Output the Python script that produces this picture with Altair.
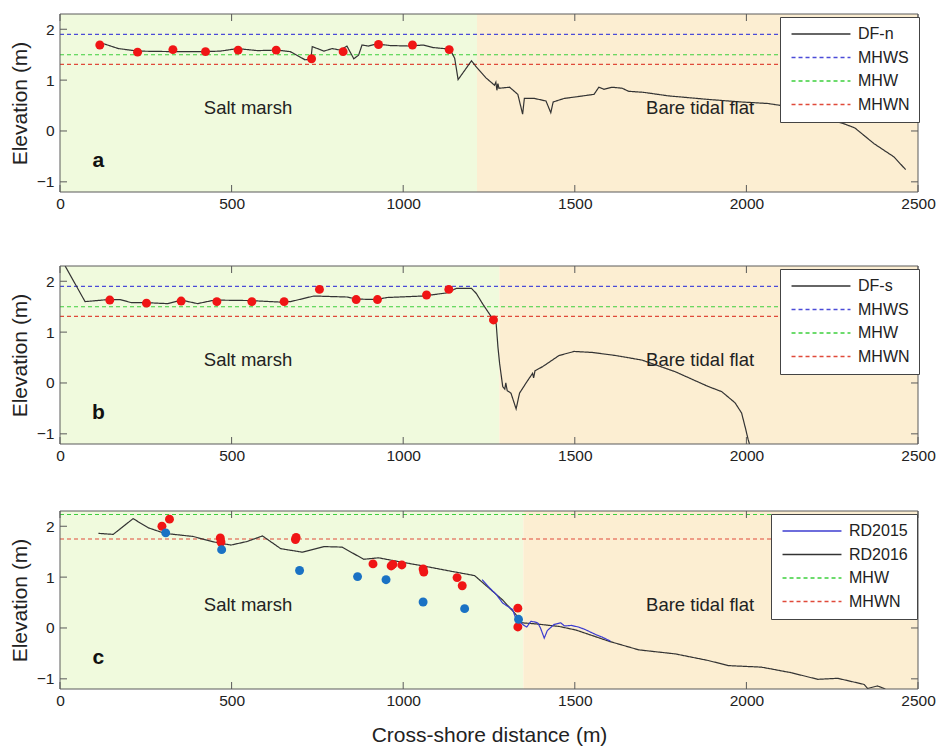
import altair as alt
import pandas as pd

# ---------------- data ----------------
XTICKS = [0, 500, 1000, 1500, 2000, 2500]
YTICKS = [-1, 0, 1, 2]

# panel a : DF-n profile
dfn_x = [116, 170, 228, 330, 421, 467, 517, 575, 633, 671, 714, 731, 735, 769, 793, 817, 836, 856, 870, 880,
         898, 923, 962, 1019, 1058, 1087, 1136, 1150, 1160, 1199, 1213, 1242, 1266, 1270, 1273, 1276, 1279,
         1310, 1334, 1348, 1353, 1382, 1416, 1430, 1437, 1469, 1503, 1556, 1570, 1585, 1609, 1638, 1657,
         1700, 1773, 1889, 1986, 2063, 2150, 2210, 2252, 2285, 2316, 2372, 2430, 2464]
dfn_y = [1.74, 1.62, 1.57, 1.56, 1.56, 1.57, 1.62, 1.58, 1.59, 1.56, 1.40, 1.41, 1.66, 1.57, 1.62, 1.59, 1.67,
         1.42, 1.49, 1.69, 1.67, 1.71, 1.68, 1.67, 1.69, 1.64, 1.61, 1.43, 1.01, 1.38, 1.26, 1.04, 0.90, 0.96,
         0.80, 0.93, 0.84, 0.86, 0.72, 0.33, 0.64, 0.64, 0.59, 0.36, 0.57, 0.64, 0.67, 0.72, 0.86, 0.82, 0.86,
         0.84, 0.78, 0.76, 0.69, 0.62, 0.57, 0.54, 0.45, 0.32, 0.20, 0.14, 0.06, -0.25, -0.51, -0.76]
dfn_dot_x = [116, 226, 329, 424, 519, 630, 733, 825, 928, 1027, 1134]
dfn_dot_y = [1.69, 1.55, 1.60, 1.56, 1.59, 1.59, 1.42, 1.56, 1.70, 1.69, 1.60]

# panel b : DF-s profile
dfs_x = [15, 73, 141, 174, 208, 247, 314, 353, 401, 450, 556, 643, 672, 740, 836, 865, 923, 952, 1058, 1126,
         1155, 1199, 1213, 1232, 1252, 1263, 1271, 1276, 1281, 1290, 1296, 1299, 1303, 1314, 1329, 1339, 1358,
         1377, 1380, 1384, 1406, 1454, 1498, 1551, 1619, 1696, 1793, 1889, 1928, 1967, 1986, 1998, 2005, 2009]
dfs_y = [2.30, 1.60, 1.64, 1.64, 1.58, 1.58, 1.56, 1.63, 1.56, 1.63, 1.62, 1.59, 1.60, 1.71, 1.69, 1.65, 1.64,
         1.68, 1.71, 1.77, 1.86, 1.86, 1.76, 1.55, 1.35, 1.24, 1.16, 0.71, 0.38, -0.07, -0.12, 0.00, -0.15,
         -0.20, -0.51, -0.20, 0.00, 0.19, 0.10, 0.24, 0.32, 0.54, 0.62, 0.60, 0.54, 0.45, 0.22, -0.07, -0.17,
         -0.39, -0.59, -0.91, -1.11, -1.20]
dfs_dot_x = [145, 252, 353, 457, 559, 653, 756, 863, 925, 1068, 1133, 1263]
dfs_dot_y = [1.63, 1.57, 1.61, 1.60, 1.60, 1.60, 1.84, 1.64, 1.64, 1.73, 1.84, 1.24]

# panel c : RD profiles
rd16_x = [112, 155, 213, 257, 305, 387, 450, 498, 545, 590, 643, 706, 769, 822, 885, 928, 991, 1058, 1136,
          1208, 1242, 1290, 1329, 1334, 1348, 1387, 1454, 1503, 1599, 1686, 1793, 1889, 1947, 2044, 2131,
          2208, 2266, 2343, 2353, 2382, 2405]
rd16_y = [1.86, 1.84, 2.15, 1.97, 1.86, 1.80, 1.69, 1.63, 1.70, 1.81, 1.56, 1.49, 1.60, 1.59, 1.35, 1.38,
          1.30, 1.22, 1.12, 1.03, 0.83, 0.55, 0.26, 0.12, 0.10, 0.08, 0.03, -0.04, -0.26, -0.43, -0.51, -0.64,
          -0.74, -0.77, -0.88, -1.01, -0.99, -1.11, -1.19, -1.14, -1.20]
rd15_x = [1230, 1250, 1271, 1290, 1319, 1329, 1340, 1350, 1360, 1372, 1382, 1392, 1400, 1411, 1420, 1440,
          1459, 1470, 1490, 1510, 1530, 1561, 1580, 1604]
rd15_y = [0.95, 0.80, 0.66, 0.49, 0.36, 0.17, 0.12, 0.06, 0.02, 0.13, 0.12, 0.10, 0.00, -0.20, -0.05, 0.07,
          0.10, 0.04, 0.05, 0.02, -0.03, -0.13, -0.18, -0.26]
rd_red_x = [297, 319, 467, 469, 686, 688, 912, 965, 970, 996, 1058, 1060, 1157, 1172, 1334, 1334]
rd_red_y = [2.00, 2.14, 1.77, 1.69, 1.74, 1.78, 1.26, 1.22, 1.25, 1.24, 1.16, 1.10, 0.99, 0.83, 0.39, 0.02]
rd_blue_x = [308, 471, 698, 867, 950, 1058, 1179, 1336]
rd_blue_y = [1.87, 1.54, 1.13, 1.01, 0.95, 0.51, 0.38, 0.17]

# tide levels
levels_ab_names = ["MHWS", "MHW", "MHWN"]
levels_ab_values = [1.90, 1.50, 1.31]
levels_c_names = ["MHW", "MHWN"]
levels_c_values = [2.23, 1.75]

# zone boundaries (m)
boundaries = [1215, 1280, 1350]
zone_labels = ["Salt marsh", "Bare tidal flat"]
panel_letters = ["a", "b", "c"]

# ---------------- styling ----------------
W, H = 858, 178
FONT = "Liberation Sans"
GREEN = "#F0FADD"
BEIGE = "#FCEED2"
AXC = "#5a5a5a"
TXT = "#222222"
C_PROF = "#333333"
C_MHWS = "#4b4bd8"
C_MHW = "#3ccf3c"
C_MHWN = "#e04a3a"
C_RD15 = "#3c3cd0"
DOT_RED = "#f01515"
DOT_BLUE = "#1a72c4"
SOLID = [1, 0]
DASH = [4, 3]

x_scale = alt.Scale(domain=[0, 2500], nice=False, zero=False)
y_scale = alt.Scale(domain=[-1.2, 2.3], nice=False, zero=False)


def make_panel(idx, lines, levels, dots, boundary, names, colors, dashes, legend_x, last):
    xtitle = "Cross-shore distance (m)" if last else None
    x_axis = alt.Axis(values=XTICKS, ticks=False, tickSize=0, domain=False, grid=False,
                      labelPadding=4, labelFontSize=15.5, labelFlush=False, titleFontSize=21,
                      titlePadding=16, titleFontWeight="normal", format="d")
    y_axis = alt.Axis(values=YTICKS, ticks=False, tickSize=0, domain=False, grid=False,
                      labelPadding=6, labelFontSize=15.5, labelFlush=False, titleFontSize=21,
                      titlePadding=6, titleFontWeight="normal", format="d")

    def X(f):
        return alt.X(f, type="quantitative", scale=x_scale, axis=x_axis, title=xtitle)

    def Y(f):
        return alt.Y(f, type="quantitative", scale=y_scale, axis=y_axis, title="Elevation (m)")

    leg = alt.Legend(orient="none", legendX=legend_x, legendY=3, title=None, fillColor="white",
                     strokeColor="#444444", padding=9, symbolType="M-5,0H5", symbolSize=139,
                     symbolStrokeWidth=1.3, symbolOffset=24, labelFontSize=16, labelFont=FONT,
                     labelColor=TXT, rowPadding=7.5, labelOffset=29, cornerRadius=0)
    color = alt.Color("series:N", scale=alt.Scale(domain=names, range=colors), legend=leg)
    dash = alt.StrokeDash("series:N", scale=alt.Scale(domain=names, range=dashes), legend=leg)

    bg = pd.DataFrame({"x0": [0, boundary], "x1": [boundary, 2500], "fill": [GREEN, BEIGE]})
    bg_layer = alt.Chart(bg).mark_rect(strokeWidth=0).encode(
        x=X("x0"), x2="x1", y=alt.value(0), y2=alt.value(H),
        fill=alt.Fill("fill:N", scale=None))

    lv = pd.DataFrame({"series": levels[0], "y": levels[1]})
    lv_layer = alt.Chart(lv).mark_rule(strokeWidth=1.1).encode(y=Y("y"), color=color, strokeDash=dash)

    rows = []
    for name, xs, ys in lines:
        for i, (a, b) in enumerate(zip(xs, ys)):
            rows.append({"series": name, "x": a, "y": b, "i": i})
    ln = pd.DataFrame(rows)
    ln_layer = alt.Chart(ln).mark_line(strokeWidth=1.2, clip=True).encode(
        x=X("x"), y=Y("y"), color=color, strokeDash=dash, order="i:Q")

    dot_layers = []
    for xs, ys, col in dots:
        d = pd.DataFrame({"x": xs, "y": ys})
        dot_layers.append(alt.Chart(d).mark_circle(size=80, opacity=1, color=col, clip=True).encode(
            x=X("x"), y=Y("y")))

    tx = pd.DataFrame({"x": [548, 1865], "y": [0.46, 0.46], "t": zone_labels})
    tx_layer = alt.Chart(tx).mark_text(font=FONT, fontSize=18.5, color=TXT).encode(
        x=X("x"), y=Y("y"), text="t:N")

    lt = pd.DataFrame({"x": [112], "y": [-0.6], "t": [panel_letters[idx]]})
    lt_layer = alt.Chart(lt).mark_text(font=FONT, fontSize=21, fontWeight="bold", color="#111111").encode(
        x=X("x"), y=Y("y"), text="t:N")

    xt = pd.DataFrame({"t": XTICKS})
    yt = pd.DataFrame({"t": YTICKS})
    tk = [
        alt.Chart(xt).mark_rule(color=AXC, strokeWidth=1).encode(x=X("t"), y=alt.value(H), y2=alt.value(H - 7)),
        alt.Chart(xt).mark_rule(color=AXC, strokeWidth=1).encode(x=X("t"), y=alt.value(0), y2=alt.value(7)),
        alt.Chart(yt).mark_rule(color=AXC, strokeWidth=1).encode(y=Y("t"), x=alt.value(0), x2=alt.value(7)),
        alt.Chart(yt).mark_rule(color=AXC, strokeWidth=1).encode(y=Y("t"), x=alt.value(W), x2=alt.value(W - 7)),
    ]
    border = alt.Chart(pd.DataFrame({"k": [0]})).mark_rect(filled=False, stroke=AXC, strokeWidth=1).encode(
        x=alt.value(0), x2=alt.value(W), y=alt.value(0), y2=alt.value(H))

    return alt.layer(bg_layer, lv_layer, ln_layer, *dot_layers, tx_layer, lt_layer, *tk, border).properties(
        width=W, height=H)


pa = make_panel(0, [("DF-n", dfn_x, dfn_y)], (levels_ab_names, levels_ab_values),
                [(dfn_dot_x, dfn_dot_y, DOT_RED)], boundaries[0],
                ["DF-n"] + levels_ab_names, [C_PROF, C_MHWS, C_MHW, C_MHWN], [SOLID, DASH, DASH, DASH],
                720, False)
pb = make_panel(1, [("DF-s", dfs_x, dfs_y)], (levels_ab_names, levels_ab_values),
                [(dfs_dot_x, dfs_dot_y, DOT_RED)], boundaries[1],
                ["DF-s"] + levels_ab_names, [C_PROF, C_MHWS, C_MHW, C_MHWN], [SOLID, DASH, DASH, DASH],
                720, False)
pc = make_panel(2, [("RD2016", rd16_x, rd16_y), ("RD2015", rd15_x, rd15_y)], (levels_c_names, levels_c_values),
                [(rd_red_x, rd_red_y, DOT_RED), (rd_blue_x, rd_blue_y, DOT_BLUE)], boundaries[2],
                ["RD2015", "RD2016"] + levels_c_names, [C_RD15, C_PROF, C_MHW, C_MHWN], [SOLID, SOLID, DASH, DASH],
                711, True)

top_pair = alt.vconcat(pa, pb, spacing=53).resolve_scale(
    color="independent", strokeDash="independent", fill="independent"
).resolve_legend(color="independent", strokeDash="independent")

chart = alt.vconcat(top_pair, pc, spacing=46).resolve_scale(
    color="independent", strokeDash="independent", fill="independent"
).resolve_legend(color="independent", strokeDash="independent").properties(
    padding={"left": 1, "top": 5, "right": 0, "bottom": 0}
).configure_view(strokeWidth=0).configure_axis(
    labelFont=FONT, titleFont=FONT, labelColor=TXT, titleColor=TXT
).configure_legend(labelFont=FONT)

chart.save("out.html", embed_options={"renderer": "svg", "actions": False})
